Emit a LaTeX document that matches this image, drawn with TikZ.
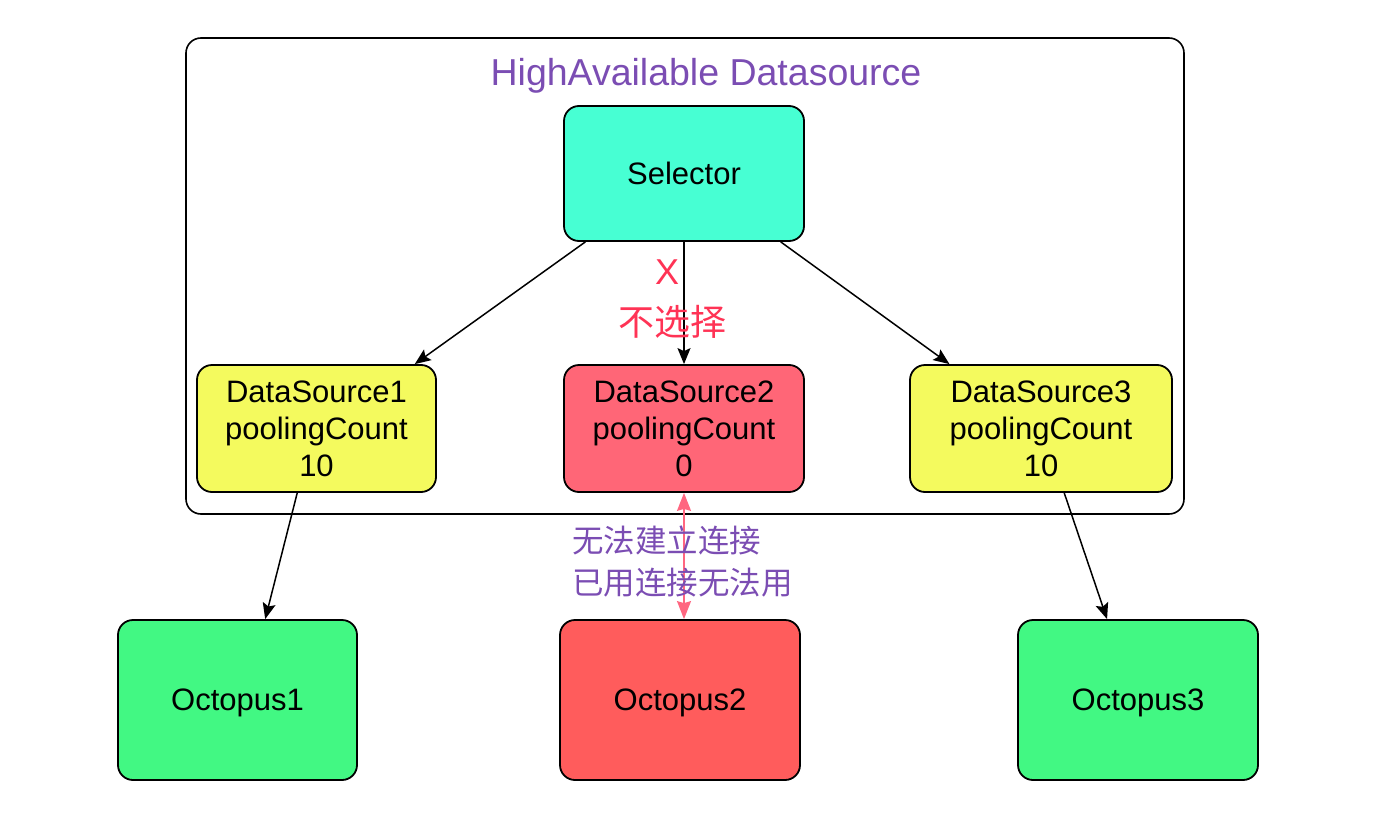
\documentclass[tikz,border=0pt]{standalone}
\usepackage{fontspec}
\setmainfont{Liberation Sans}
\newfontfamily\cjk{Noto Sans CJK SC}
\usetikzlibrary{calc,arrows.meta}
\definecolor{selc}{HTML}{47FFD3}
\definecolor{dsy}{HTML}{F4FA5E}
\definecolor{dsr}{HTML}{FF6677}
\definecolor{octg}{HTML}{42F883}
\definecolor{octr}{HTML}{FF5C5C}
\definecolor{ttl}{HTML}{7B4DB3}
\definecolor{redtxt}{HTML}{FF3355}
\definecolor{pinkarr}{HTML}{FF6680}
\tikzset{
  box/.style={draw=black, line width=1.8pt, rounded corners=15pt, inner sep=0pt,
    align=center, font=\fontsize{31}{37}\selectfont},
  conn/.style={line width=1.5pt, -{Stealth[length=16pt,width=13pt,inset=3pt]}},
  dconn/.style={draw=pinkarr, line width=1.5pt,
    {Stealth[length=18pt,width=14pt,inset=2pt]}-{Stealth[length=18pt,width=14pt,inset=2pt]}},
}
\begin{document}
\begin{tikzpicture}[x=1pt,y=-1pt]
\useasboundingbox (0,0) rectangle (1378,832);
\node[draw=black, line width=1.6pt, rounded corners=15pt, minimum width=998pt, minimum height=476pt, inner sep=0pt] (ha) at (685,276) {};
\node[text=ttl, font=\fontsize{37.5}{44}\selectfont, anchor=base] (title) at (706,86) {HighAvailable Datasource};
\node[box, fill=selc, minimum width=240pt, minimum height=135pt] (sel) at (684,173.5) {Selector};
\node[box, fill=dsy, minimum width=239pt, minimum height=127pt] (ds1) at (316.5,428.5) {DataSource1\\poolingCount\\10};
\node[box, fill=dsr, minimum width=240pt, minimum height=127pt] (ds2) at (684,428.5) {DataSource2\\poolingCount\\0};
\node[box, fill=dsy, minimum width=262pt, minimum height=127pt] (ds3) at (1041,428.5) {DataSource3\\poolingCount\\10};
\node[box, fill=octg, minimum width=239pt, minimum height=160pt, text depth=0pt] (oct1) at (237.5,700) {Octopus1};
\node[box, fill=octr, minimum width=240pt, minimum height=160pt, text depth=0pt] (oct2) at (680,700) {Octopus2};
\node[box, fill=octg, minimum width=240pt, minimum height=160pt, text depth=0pt] (oct3) at (1138,700) {Octopus3};
\draw[conn] ($(sel.south west)!0.092!(sel.south east)$) -- ($(ds1.north west)!0.908!(ds1.north east)$);
\draw[conn] (sel.south) -- (ds2.north);
\draw[conn] ($(sel.south west)!0.9!(sel.south east)$) -- ($(ds3.north west)!0.153!(ds3.north east)$);
\draw[conn] ($(ds1.south west)!0.42!(ds1.south east)$) -- ($(oct1.north west)!0.615!(oct1.north east)$);
\draw[conn] ($(ds3.south west)!0.588!(ds3.south east)$) -- ($(oct3.north west)!0.372!(oct3.north east)$);
\draw[dconn] (ds2.south) -- (ds2.south |- oct2.north);
\node[text=redtxt, font=\fontsize{36}{40}\selectfont] (x) at (667,272) {X};
\node[text=redtxt, font=\cjk\fontsize{36}{40}\selectfont] (nsel) at (672,322) {不选择};
\node[text=ttl, font=\cjk\fontsize{31.5}{42}\selectfont, align=left, anchor=north west, inner sep=0pt] (msg) at (572,526) {无法建立连接\\已用连接无法用};
\end{tikzpicture}
\end{document}
